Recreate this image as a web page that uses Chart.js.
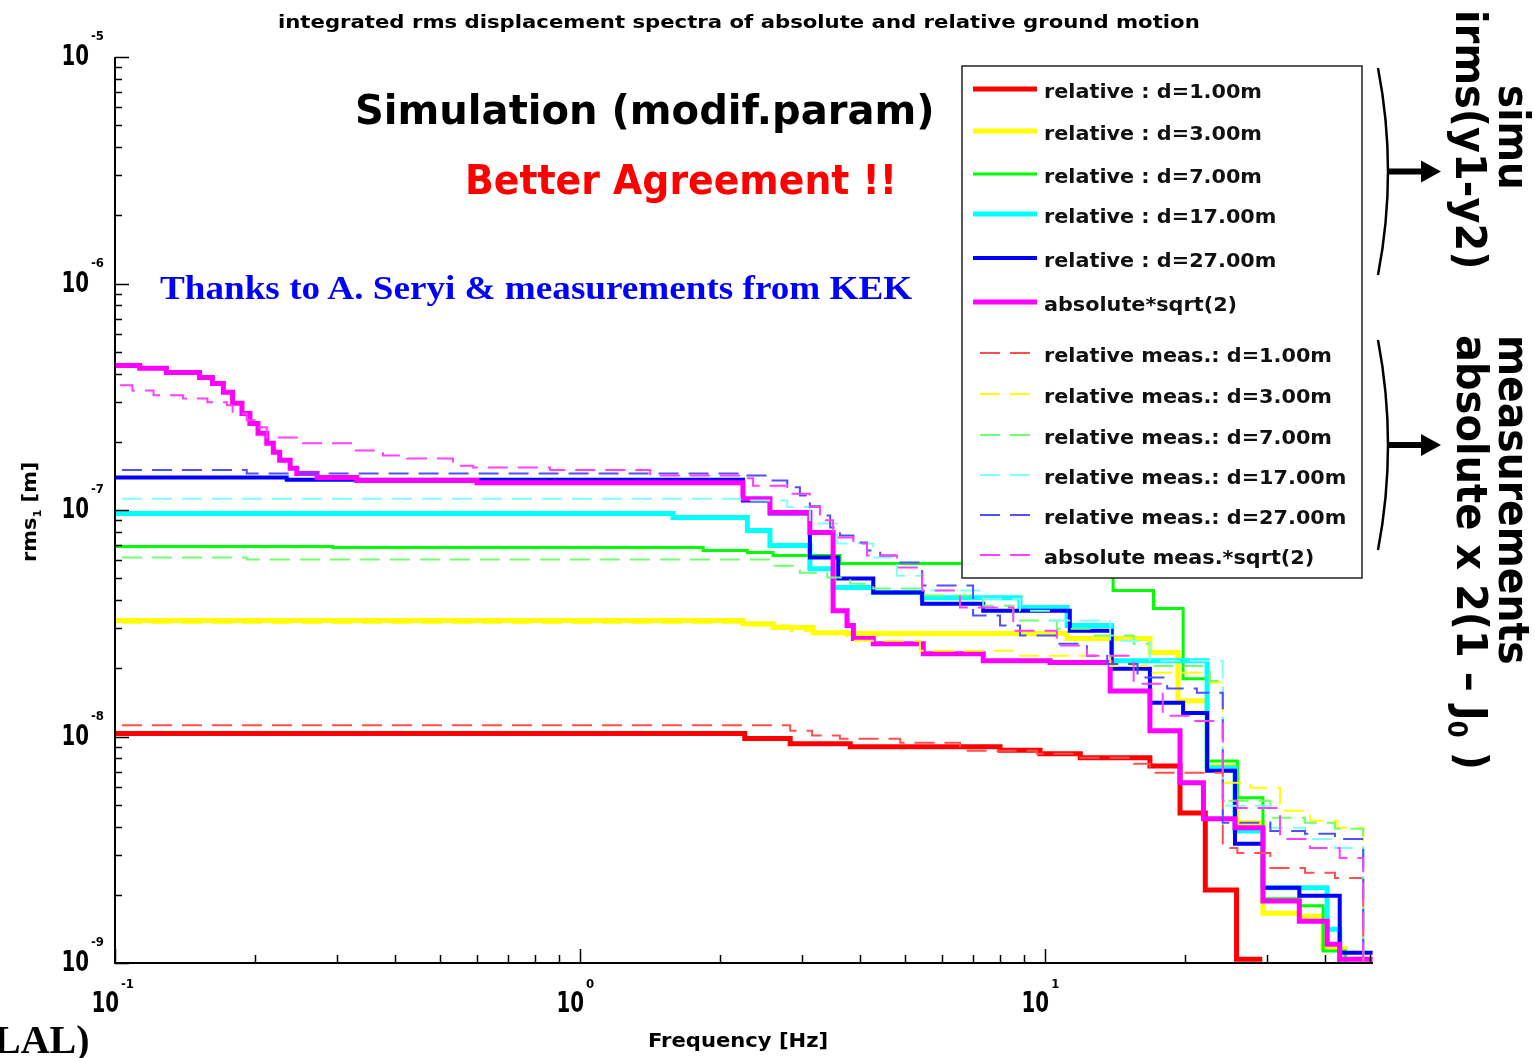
<!DOCTYPE html>
<html>
<head>
<meta charset="utf-8">
<title>integrated rms displacement spectra</title>
<script src="https://cdn.jsdelivr.net/npm/chart.js@4.4.0/dist/chart.umd.min.js"></script>
<style>
    body { margin: 0; background: #fff; }
    #wrap { position: relative; width: 1535px; height: 1058px; overflow: hidden; background: #fff; }
    #chart { position: absolute; left: 0; top: 0; }
    .t { position: absolute; white-space: nowrap; transform-origin: 0 0; font-family: "DejaVu Sans", sans-serif; font-weight: bold; }
</style>
</head>
<body>
<div id="wrap">
    <canvas id="chart" width="1535" height="1058"></canvas>
    <div class="t" id="title" style="left:278px;top:12px;font-size:17px;line-height:20px;">integrated rms displacement spectra of absolute and relative ground motion</div>
    <div class="t" id="sim" style="left:355px;top:90px;font-size:40px;line-height:40px;">Simulation (modif.param)</div>
    <div class="t" id="better" style="left:465px;top:160px;font-size:40px;line-height:40px;color:#ff0000;">Better Agreement !!</div>
    <div class="t" id="thanks" style="left:160px;top:271px;font-size:34px;line-height:34px;color:#0000ff;font-family:'Liberation Serif',serif;">Thanks to A. Seryi &amp; measurements from KEK</div>
    <div class="t" id="xlabel" style="left:648px;top:1030px;font-size:19px;line-height:20px;">Frequency [Hz]</div>
    <div class="t" id="ylabel" data-rot="-90" style="left:18px;top:562px;font-size:20px;line-height:22px;">rms<sub style="font-size:11px">1</sub> [m]</div>
    <div class="t" id="simu" data-rot="90" style="left:1534px;top:85px;font-size:42px;line-height:42px;font-family:'DejaVu Sans Condensed','DejaVu Sans',sans-serif;">simu</div>
    <div class="t" id="irms" data-rot="90" style="left:1491px;top:10px;font-size:42px;line-height:42px;font-family:'DejaVu Sans Condensed','DejaVu Sans',sans-serif;">irms(y1-y2)</div>
    <div class="t" id="meas" data-rot="90" style="left:1534px;top:335px;font-size:42px;line-height:42px;font-family:'DejaVu Sans Condensed','DejaVu Sans',sans-serif;">measurements</div>
    <div class="t" id="absx" data-rot="90" style="left:1492px;top:335px;font-size:42px;line-height:42px;font-family:'DejaVu Sans Condensed','DejaVu Sans',sans-serif;">absolute x 2(1 &#8211; J<sub style="font-size:26px">0</sub> )</div>
    <div class="t" id="lal" style="left:-6px;top:1020px;font-size:40px;line-height:40px;font-family:'Liberation Serif',serif;">LAL)</div>
</div>
<script>
// integrated rms, [frequency Hz, displacement m], each level held from its frequency up to the next one
const relD1 = [[0.1,1.03e-8],[2.26,9.8e-9],[2.83,9.3e-9],[3.81,9.0e-9],[8.0,8.7e-9],[9.75,8.4e-9],[11.9,8.05e-9],[16.8,7.4e-9],[19.5,4.6e-9],[22.1,2.1e-9],[25.8,1.04e-9],[29.3,1.04e-9]];
const relD3 = [[0.1,3.25e-8],[2.24,3.15e-8],[2.6,3.03e-8],[3.17,2.87e-8],[3.75,2.85e-8],[11.15,2.71e-8],[16.8,2.35e-8],[19.3,1.44e-8],[22.3,7.4e-9],[25.9,4.16e-9],[29.4,1.66e-9],[35.2,1.61e-9],[39.6,1.16e-9],[44.2,9e-10]];
const relD7 = [[0.1,6.9e-8],[0.294,6.83e-8],[1.84,6.62e-8],[2.29,6.49e-8],[2.6,6.29e-8],[3.62,5.8e-8],[14.0,4.41e-8],[17.1,3.67e-8],[19.8,1.8e-8],[22.3,7.8e-9],[25.9,5.36e-9],[29.4,1.92e-9],[35.2,1.79e-9],[39.6,1.13e-9],[44.2,9e-10]];
const relD17 = [[0.1,9.65e-8],[1.585,9.27e-8],[2.29,8.12e-8],[2.56,6.97e-8],[3.12,5.51e-8],[3.5,4.55e-8],[4.27,4.32e-8],[5.44,4.1e-8],[8.83,3.71e-8],[11.15,3.09e-8],[13.9,2.16e-8],[22.3,7.28e-9],[25.6,3.83e-9],[29.4,2.15e-9],[40.4,1.41e-9],[43.0,9e-10]];
const relD27 = [[0.1,1.39e-7],[0.234,1.36e-7],[2.24,1.1e-7],[2.56,9.65e-8],[3.12,6.17e-8],[3.59,4.98e-8],[4.27,4.32e-8],[5.44,3.86e-8],[7.36,3.59e-8],[11.3,2.93e-8],[13.9,1.99e-8],[16.8,1.41e-8],[19.8,1.27e-8],[22.3,7.06e-9],[25.6,3.36e-9],[29.4,2.15e-9],[35.2,1.98e-9],[43.0,1.11e-9],[50.6,1.11e-9]];
const absSqrt2 = [[0.1,4.35e-7],[0.113,4.22e-7],[0.129,4.05e-7],[0.152,3.85e-7],[0.162,3.62e-7],[0.171,3.31e-7],[0.179,2.96e-7],[0.1875,2.67e-7],[0.195,2.41e-7],[0.203,2.18e-7],[0.212,1.97e-7],[0.219,1.8e-7],[0.226,1.66e-7],[0.238,1.53e-7],[0.246,1.45e-7],[0.272,1.39e-7],[0.331,1.35e-7],[0.6,1.32e-7],[2.24,1.12e-7],[2.56,9.75e-8],[3.12,7.95e-8],[3.5,3.59e-8],[3.75,3.09e-8],[3.87,2.71e-8],[4.27,2.57e-8],[5.47,2.32e-8],[7.36,2.16e-8],[10.25,2.12e-8],[13.8,1.59e-8],[16.8,1.06e-8],[19.5,6.25e-9],[21.9,4.33e-9],[25.6,3.95e-9],[29.4,1.88e-9],[35.2,1.53e-9],[40.4,1.21e-9],[43.0,1.04e-9],[50.6,1.04e-9]];

const measD1 = [[0.1035,1.12e-8],[2.83,1.06e-8],[3.155,1.01e-8],[3.62,9.77e-9],[4.88,9.38e-9],[6.56,8.65e-9],[9.61,8.39e-9],[11.7,8.05e-9],[15.5,7.58e-9],[16.8,6.92e-9],[24.1,3.22e-9],[25.9,3.06e-9],[30.5,2.63e-9],[36.2,2.5e-9],[42.0,2.37e-9],[48.3,9e-10]];
const measD3 = [[0.1035,3.18e-8],[2.26,3.09e-8],[2.83,2.93e-8],[3.17,2.85e-8],[3.75,2.65e-8],[5.38,2.39e-8],[8.54,2.27e-8],[13.8,2.05e-8],[16.8,1.91e-8],[22.6,1.73e-8],[24.1,6.25e-9],[27.6,5.94e-9],[32.0,4.7e-9],[37.1,4.25e-9],[42.5,3.95e-9],[48.3,9e-10]];
const measD7 = [[0.1035,6.17e-8],[0.192,6.04e-8],[2.6,5.68e-8],[2.97,5.29e-8],[3.4,5.03e-8],[3.81,4.73e-8],[4.27,4.5e-8],[5.44,4.19e-8],[7.36,3.78e-8],[8.54,3.25e-8],[10.6,2.99e-8],[12.5,2.79e-8],[15.5,2.57e-8],[16.8,2.05e-8],[22.6,1.76e-8],[24.1,5.2e-9],[30.5,4.38e-9],[36.2,4.16e-9],[42.0,3.91e-9],[48.3,9e-10]];
const measD17 = [[0.1035,1.12e-7],[2.21,1.1e-7],[2.79,1.03e-7],[3.12,8.71e-8],[3.57,7.11e-8],[4.27,6.17e-8],[4.8,5.13e-8],[5.44,4.41e-8],[7.24,4.06e-8],[8.83,3.59e-8],[10.25,3.25e-8],[13.8,2.65e-8],[16.8,2.16e-8],[24.1,4.94e-9],[30.5,3.95e-9],[36.2,3.53e-9],[42.0,3.22e-9],[48.3,9e-10]];
const measD27 = [[0.1035,1.5e-7],[0.192,1.45e-7],[2.24,1.42e-7],[2.56,1.35e-7],[2.79,1.26e-7],[2.97,1.16e-7],[3.12,1.04e-7],[3.28,9.46e-8],[3.45,8.37e-8],[3.62,7.71e-8],[3.87,7.19e-8],[4.14,6.62e-8],[4.42,6.29e-8],[4.8,5.86e-8],[5.44,4.64e-8],[7.0,3.42e-8],[8.0,3.09e-8],[8.83,2.79e-8],[10.6,2.57e-8],[12.3,2.27e-8],[13.6,2.09e-8],[15.8,1.82e-8],[18.3,1.63e-8],[21.2,1.56e-8],[24.1,4.16e-9],[30.5,3.83e-9],[36.2,3.72e-9],[42.0,3.53e-9],[48.3,9e-10]];
const measAbs = [[0.1025,3.55e-7],[0.109,3.37e-7],[0.121,3.21e-7],[0.14,3.11e-7],[0.158,2.99e-7],[0.174,2.9e-7],[0.179,2.67e-7],[0.192,2.49e-7],[0.2,2.32e-7],[0.212,2.09e-7],[0.246,1.97e-7],[0.325,1.83e-7],[0.377,1.74e-7],[0.425,1.69e-7],[0.533,1.57e-7],[0.589,1.54e-7],[0.862,1.5e-7],[1.415,1.42e-7],[2.26,1.38e-7],[2.355,1.28e-7],[2.79,1.18e-7],[3.12,1.03e-7],[3.28,9.0e-8],[3.5,7.56e-8],[3.87,7.11e-8],[4.14,6.29e-8],[4.8,5.57e-8],[5.44,4.41e-8],[6.56,3.71e-8],[8.54,2.93e-8],[10.6,2.52e-8],[12.3,2.27e-8],[15.5,1.71e-8],[17.9,1.235e-8],[20.5,1.17e-8],[24.1,5.2e-9],[25.9,4.84e-9],[32.0,3.53e-9],[37.1,3.22e-9],[43.0,2.91e-9],[48.3,9e-10]];

const seriesLabels = [
    "relative : d=1.00m", "relative : d=3.00m", "relative : d=7.00m", "relative : d=17.00m", "relative : d=27.00m", "absolute*sqrt(2)",
    "relative meas.: d=1.00m", "relative meas.: d=3.00m", "relative meas.: d=7.00m", "relative meas.: d=17.00m", "relative meas.: d=27.00m", "absolute meas.*sqrt(2)"
];
const xDecades = [0.1, 1, 10];
const xExponents = ["-1", "0", "1"];
const yDecades = [1e-9, 1e-8, 1e-7, 1e-6, 1e-5];
const yExponents = ["-9", "-8", "-7", "-6", "-5"];

const allSeries = [relD1, relD3, relD7, relD17, relD27, absSqrt2, measD1, measD3, measD7, measD17, measD27, measAbs];
const colors = ["#ff0000", "#ffff00", "#00ff00", "#00ffff", "#0000ff", "#ff00ff",
                "#ff5050", "#ffff00", "#70ff70", "#80ffff", "#5050ff", "#ff40ff"];
const widths = [5, 5, 3, 5, 4, 5, 2, 2, 2, 2, 2, 2];

const datasets = allSeries.map((s, i) => ({
    label: seriesLabels[i],
    data: s.map(p => ({ x: p[0], y: p[1] })),
    borderColor: colors[i],
    borderWidth: widths[i],
    borderDash: i >= 6 ? [20, 10] : [],
    stepped: "before",
    pointRadius: 0,
    fill: false,
    order: 20 - i
}));

// axes with inward ticks, superscript labels, legend box and the braces on the right
const frame = {
    id: "frame",
    afterDatasetsDraw(chart) {
        const ctx = chart.ctx;
        const a = chart.chartArea;
        const xs = chart.scales.x, ys = chart.scales.y;
        ctx.save();

        // legend
        ctx.fillStyle = "#fff";
        ctx.fillRect(962, 66, 400, 512);
        ctx.strokeStyle = "#222";
        ctx.lineWidth = 1.5;
        ctx.strokeRect(962, 66, 400, 512);
        const rowY = [92, 134, 177, 217, 261, 305, 356, 397, 438, 478, 518, 558];
        ctx.font = "bold 20px 'DejaVu Sans', sans-serif";
        ctx.textBaseline = "middle";
        const k = 218 / ctx.measureText(seriesLabels[0]).width;
        chart.data.datasets.forEach((d, i) => {
            const yy = rowY[i];
            ctx.strokeStyle = d.borderColor;
            ctx.lineWidth = d.borderWidth;
            ctx.setLineDash(d.borderDash);
            ctx.beginPath();
            if (i < 6) { ctx.moveTo(973, yy - 3); ctx.lineTo(1037, yy - 3); }
            else { ctx.moveTo(980, yy - 3); ctx.lineTo(1030, yy - 3); }
            ctx.stroke();
            ctx.setLineDash([]);
            ctx.save();
            ctx.translate(1044, yy + 1);
            ctx.scale(k, 1);
            ctx.fillStyle = "#111";
            ctx.fillText(d.label, 0, 0);
            ctx.restore();
        });

        // axes
        ctx.strokeStyle = "#000";
        ctx.lineWidth = 2;
        ctx.beginPath();
        ctx.moveTo(a.left, a.top);
        ctx.lineTo(a.left, a.bottom);
        ctx.lineTo(a.right, a.bottom);
        ctx.stroke();

        ctx.lineWidth = 1.5;
        ctx.beginPath();
        yDecades.forEach(dv => {
            for (let m = 1; m <= 9; m++) {
                const v = dv * m;
                if (v > ys.max * 1.0001) break;
                const py = Math.round(ys.getPixelForValue(v)) + 0.5;
                ctx.moveTo(a.left, py);
                ctx.lineTo(a.left + (m === 1 ? 14 : 7), py);
            }
        });
        xDecades.forEach(dv => {
            for (let m = 1; m <= 9; m++) {
                const v = dv * m;
                if (v > xs.max) break;
                const px = Math.round(xs.getPixelForValue(v)) + 0.5;
                ctx.moveTo(px, a.bottom);
                ctx.lineTo(px, a.bottom - (m === 1 ? 14 : 8));
            }
        });
        ctx.stroke();

        // tick labels, "10" stretched a little taller like the original font
        ctx.fillStyle = "#000";
        ctx.textBaseline = "middle";
        const ten = (x, y) => {
            ctx.save();
            ctx.translate(x, y);
            ctx.scale(1, 1.25);
            ctx.font = "bold 22px 'DejaVu Sans Condensed', 'DejaVu Sans', sans-serif";
            ctx.textAlign = "right";
            ctx.fillText("10", 0, 0);
            ctx.restore();
        };
        ctx.font = "bold 13px 'DejaVu Sans Condensed', 'DejaVu Sans', sans-serif";
        yDecades.forEach((dv, i) => {
            const py = ys.getPixelForValue(dv);
            ten(a.left - 26, py + 1);
            ctx.textAlign = "left";
            ctx.fillText(yExponents[i], a.left - 24, py - 20);
        });
        xDecades.forEach((dv, i) => {
            const px = xs.getPixelForValue(dv);
            ten(px + 4, a.bottom + 42);
            ctx.textAlign = "left";
            ctx.fillText(xExponents[i], px + 6, a.bottom + 22);
        });

        // braces with arrows
        ctx.strokeStyle = "#000";
        ctx.fillStyle = "#000";
        [[68, 275], [340, 550]].forEach(([t, b]) => {
            const mid = (t + b) / 2;
            ctx.lineWidth = 2.5;
            ctx.beginPath();
            ctx.moveTo(1378, t);
            ctx.quadraticCurveTo(1398, mid, 1378, b);
            ctx.stroke();
            ctx.lineWidth = 6;
            ctx.beginPath();
            ctx.moveTo(1389, mid);
            ctx.lineTo(1424, mid);
            ctx.stroke();
            ctx.beginPath();
            ctx.moveTo(1441, mid);
            ctx.lineTo(1421, mid - 11);
            ctx.lineTo(1421, mid + 11);
            ctx.closePath();
            ctx.fill();
        });
        ctx.restore();
    }
};

new Chart(document.getElementById("chart"), {
    type: "line",
    data: { datasets: datasets },
    options: {
        responsive: false,
        animation: false,
        layout: { padding: { left: 107, top: 57, right: 162, bottom: 87 } },
        plugins: { legend: { display: false }, tooltip: { enabled: false }, title: { display: false } },
        scales: {
            x: { type: "logarithmic", min: 0.1, max: 50.7, grid: { display: false }, ticks: { display: false }, border: { display: false } },
            y: { type: "logarithmic", min: 1e-9, max: 1e-5, grid: { display: false }, ticks: { display: false }, border: { display: false } }
        }
    },
    plugins: [frame]
});

// stretch the free texts to the widths seen in the picture
function fit(id, w) {
    const el = document.getElementById(id);
    const k = w / el.offsetWidth;
    const rot = el.dataset.rot ? "rotate(" + el.dataset.rot + "deg) " : "";
    el.style.transform = rot + "scaleX(" + k + ")";
}
fit("title", 922);
fit("sim", 580);
fit("better", 432);
fit("thanks", 752);
fit("xlabel", 180);
fit("ylabel", 100);
fit("simu", 105);
fit("irms", 260);
fit("meas", 330);
fit("absx", 435);
</script>
</body>
</html>
